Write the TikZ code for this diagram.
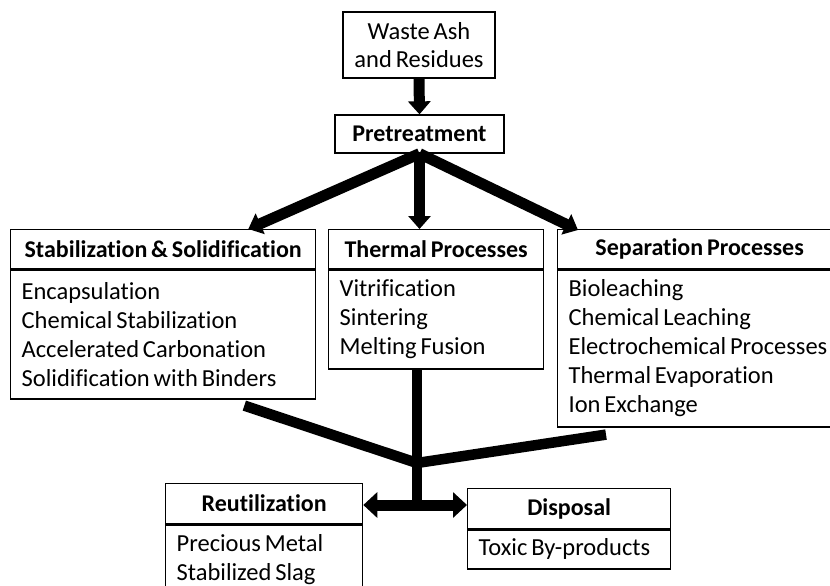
\documentclass[tikz,border=0pt]{standalone}
\usepackage{fontspec}
\setmainfont{Carlito}[Ligatures={NoCommon}, WordSpace=0.7]
\usetikzlibrary{arrows.meta,calc}
\tikzset{
  boxline/.style={draw=black, line width=1.3pt, fill=white},
  plainbox/.style={boxline, inner sep=2pt, align=center, font=\fontsize{24.5}{28}\selectfont},
  head/.style={boxline, anchor=north west, inner sep=2pt, align=center, font=\bfseries\fontsize{24}{28}\selectfont},
  body/.style={boxline, anchor=north west, inner xsep=11pt, inner ysep=0pt, align=flush left, font=\fontsize{24.5}{29}\selectfont},
  flow/.style={line width=11pt, -{Triangle[width=22pt,length=13pt]}},
  flowtwo/.style={line width=11pt, -{Triangle[width=25pt,length=14pt]}},
  link/.style={line width=10.5pt},
}
\begin{document}
\begin{tikzpicture}[x=1pt,y=-1pt]
\useasboundingbox (0,0) rectangle (830,586);
\clip (0,0) rectangle (830,586);
\fill[white] (0,0) rectangle (830,586);

% top
\node[plainbox, minimum width=152pt, minimum height=66pt] (waste) at (419,45) {Waste Ash\\and Residues};
\node[plainbox, font=\bfseries\fontsize{24}{28}\selectfont, minimum width=169pt, minimum height=38pt] (pre) at (419.5,134) {Pretreatment};

% three process boxes
\node[head, minimum width=305pt, minimum height=39pt] (stabH) at (10,229) {Stabilization \& Solidification};
\node[body, text width=283pt, minimum height=129pt] (stabB) at (stabH.south west) {Encapsulation\\Chemical Stabilization\\Accelerated Carbonation\\Solidification with Binders};

\node[head, minimum width=215pt, minimum height=39pt] (thermH) at (328,229) {Thermal Processes};
\node[body, text width=193pt, minimum height=99pt] (thermB) at (thermH.south west) {Vitrification\\Sintering\\Melting Fusion};

\node[head, minimum width=284pt, minimum height=39pt] (sepH) at (557,229) {Separation Processes};
\node[body, text width=262pt, minimum height=157pt] (sepB) at (sepH.south west) {Bioleaching\\Chemical Leaching\\Electrochemical~Processes\\Thermal Evaporation\\Ion Exchange};

% bottom boxes
\node[head, minimum width=197pt, minimum height=40pt] (reutH) at (165,483) {Reutilization};
\node[body, text width=175pt, minimum height=70pt] (reutB) at (reutH.south west) {Precious Metal\\Stabilized Slag};

\node[head, minimum width=203pt, minimum height=40pt] (dispH) at (467,488) {Disposal};
\node[body, text width=181pt, minimum height=39pt] (dispB) at (dispH.south west) {Toxic By-products};

% arrows
\draw[flow] (waste.south) -- (pre.north);
\draw[flow] (pre.south) -- ($(stabH.north east)+(-68,0)$);
\draw[flow] (pre.south) -- (pre.south |- thermH.north);
\draw[flow] (pre.south) -- ($(sepH.north west)+(21,1)$);

% merging lines
\coordinate (j) at (417,463);
\coordinate (k) at (417,505);
\coordinate (ls) at ($(stabB.south east)+(-72,6)$);
\coordinate (rs) at ($(sepB.south west)+(49,7)$);
\draw[link] (ls) -- (j);
\draw[link] (rs) -- (j);
\draw[link] (thermB.south -| k) -- (k);
\draw[flowtwo] (k) -- (reutH.east |- k);
\draw[flowtwo] (k) -- (dispH.west |- k);
\end{tikzpicture}
\end{document}
